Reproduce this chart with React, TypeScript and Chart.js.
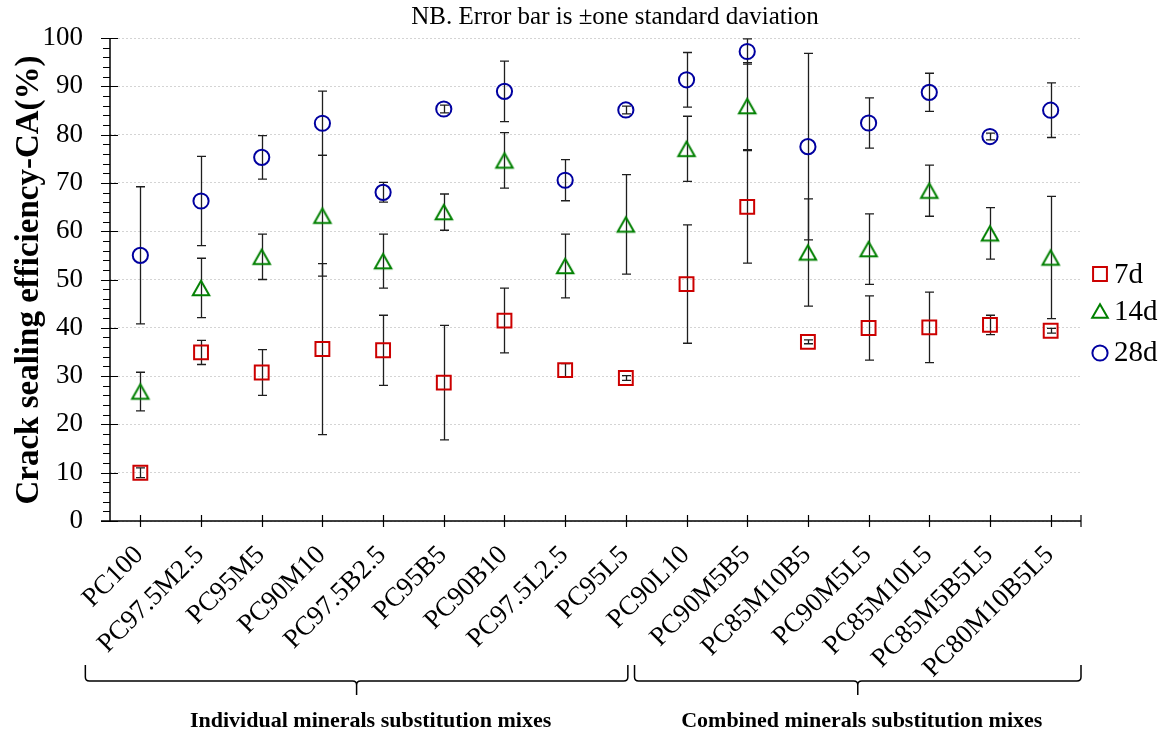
import { useEffect, useRef } from "react";
import { Chart, registerables } from "chart.js";

Chart.register(...registerables);

const categories = [
  "PC100", "PC97.5M2.5", "PC95M5", "PC90M10", "PC97.5B2.5", "PC95B5", "PC90B10", "PC97.5L2.5",
  "PC95L5", "PC90L10", "PC90M5B5", "PC85M10B5", "PC90M5L5", "PC85M10L5", "PC85M5B5L5", "PC80M10B5L5",
];

const mean7d = [10.0, 34.9, 30.75, 35.6, 35.35, 28.65, 41.5, 31.25, 29.6, 49.05, 65.05, 37.1, 39.95, 40.1, 40.6, 39.4];
const sd7d = [1.0, 2.5, 4.75, 17.7, 7.25, 11.85, 6.7, 1.35, 0.5, 12.25, 11.65, 0.4, 6.65, 7.3, 2.0, 0.5];
const mean14d = [26.8, 48.25, 54.7, 63.2, 53.8, 63.95, 74.65, 52.8, 61.4, 77.05, 85.9, 55.6, 56.3, 68.4, 59.55, 54.55];
const sd14d = [4.0, 6.15, 4.7, 12.5, 5.6, 3.75, 5.75, 6.6, 10.3, 6.75, 9.0, 11.1, 7.3, 5.3, 5.35, 12.65];
const mean28d = [55.0, 66.25, 75.3, 82.35, 68.05, 85.3, 88.95, 70.55, 85.1, 91.35, 97.2, 77.5, 82.4, 88.75, 79.6, 85.05];
const sd28d = [14.2, 9.25, 4.5, 6.65, 2.05, 0.8, 6.25, 4.25, 0.8, 5.65, 2.6, 19.3, 5.2, 3.95, 0.7, 5.65];

const seriesLabels = ["7d", "14d", "28d"];
const groupLabels = ["Individual minerals substitution mixes", "Combined minerals substitution mixes"];
const groupStart = [0, 9];
const groupEnd = [8, 15];
const titleText = "NB. Error bar is \u00b1one standard daviation";
const yTitleText = "Crack sealing efficiency-CA(%)";

const FONT = "'Liberation Serif', 'Times New Roman', serif";
const RED = "#cc0000";
const GREEN = "#008000";
const BLUE = "#0000a0";

const seriesColors = [RED, GREEN, BLUE];
const seriesStyles = ["rect", "triangle", "circle"];
const seriesRadius = [9.8, 9.8, 7.6];
const seriesMeans = [mean7d, mean14d, mean28d];
const seriesSds = [sd7d, sd14d, sd28d];

// Triangle drawn centred on its bounding box (as in the reference) rather than its centroid.
function makeTriangleImage(color: string, halfW: number, halfH: number) {
  const size = 24;
  const c = document.createElement("canvas");
  c.width = size;
  c.height = size;
  const g = c.getContext("2d") as CanvasRenderingContext2D;
  const cx = size / 2;
  const cy = size / 2;
  g.strokeStyle = color;
  g.lineWidth = 2;
  g.lineJoin = "miter";
  g.beginPath();
  g.moveTo(cx, cy - halfH);
  g.lineTo(cx + halfW, cy + halfH);
  g.lineTo(cx - halfW, cy + halfH);
  g.closePath();
  g.stroke();
  return c;
}

function drawMarker(ctx: CanvasRenderingContext2D, style: string, x: number, y: number, r: number) {
  ctx.beginPath();
  if (style === "rect") {
    const h = r * Math.SQRT1_2;
    ctx.rect(x - h, y - h, 2 * h, 2 * h);
  } else if (style === "triangle") {
    const hw = r * 0.866;
    const hh = r * 0.75;
    ctx.moveTo(x, y - hh);
    ctx.lineTo(x + hw, y + hh);
    ctx.lineTo(x - hw, y + hh);
    ctx.closePath();
  } else {
    ctx.arc(x, y, r, 0, Math.PI * 2);
  }
  ctx.stroke();
}

const decorPlugin = {
  id: "decor",
  beforeDatasetsDraw(chart: any) {
    const { ctx } = chart;
    const xs = chart.scales.x;
    const ys = chart.scales.y;
    ctx.save();
    ctx.strokeStyle = "#1e1e1e";
    ctx.lineWidth = 1.3;
    seriesMeans.forEach((means, s) => {
      means.forEach((m: number, i: number) => {
        const sd = seriesSds[s][i];
        const px = Math.round(xs.getPixelForValue(i)) + 0.5;
        const top = ys.getPixelForValue(m + sd);
        const bot = ys.getPixelForValue(m - sd);
        ctx.beginPath();
        ctx.moveTo(px, top);
        ctx.lineTo(px, bot);
        ctx.moveTo(px - 4.5, top);
        ctx.lineTo(px + 4.5, top);
        ctx.moveTo(px - 4.5, bot);
        ctx.lineTo(px + 4.5, bot);
        ctx.stroke();
      });
    });
    ctx.restore();
  },
  afterDraw(chart: any) {
    const { ctx, chartArea } = chart;
    const xs = chart.scales.x;
    const ys = chart.scales.y;
    const L = chartArea.left;
    const R = chartArea.right;
    const B = ys.getPixelForValue(0);
    const T = ys.getPixelForValue(100);
    ctx.save();
    ctx.strokeStyle = "#000";
    ctx.lineWidth = 1.5;
    ctx.beginPath();
    ctx.moveTo(L, T);
    ctx.lineTo(L, B);
    ctx.moveTo(L - 9, B);
    ctx.lineTo(R, B);
    ctx.stroke();
    ctx.lineWidth = 1.2;
    ctx.beginPath();
    for (let v = 0; v <= 100; v += 2) {
      const py = Math.round(ys.getPixelForValue(v)) + 0.5;
      if (v % 10 === 0) {
        ctx.moveTo(L - 9, py);
        ctx.lineTo(L + 8, py);
      } else {
        ctx.moveTo(L - 7, py);
        ctx.lineTo(L, py);
      }
    }
    categories.forEach((_, i) => {
      const px = Math.round(xs.getPixelForValue(i)) + 0.5;
      ctx.moveTo(px, B - 6);
      ctx.lineTo(px, B + 6);
    });
    ctx.moveTo(R, B - 6);
    ctx.lineTo(R, B + 6);
    ctx.stroke();

    ctx.fillStyle = "#000";
    ctx.font = `27px ${FONT}`;
    ctx.textAlign = "right";
    ctx.textBaseline = "middle";
    categories.forEach((c, i) => {
      const px = xs.getPixelForValue(i);
      ctx.save();
      ctx.translate(px - 1, B + 30);
      ctx.rotate(-Math.PI / 4);
      ctx.fillText(c, 0, 0);
      ctx.restore();
    });

    ctx.font = `25px ${FONT}`;
    ctx.textAlign = "center";
    ctx.textBaseline = "middle";
    ctx.fillText(titleText, 615, 17);

    ctx.save();
    ctx.translate(29, 280);
    ctx.rotate(-Math.PI / 2);
    ctx.font = `bold 33px ${FONT}`;
    ctx.fillText(yTitleText, 0, 0);
    ctx.restore();

    ctx.lineWidth = 1.5;
    const drawBrace = (x1: number, x2: number) => {
      const yTop = 665;
      const yLine = 681;
      const tip = 695;
      const mid = (x1 + x2) / 2;
      ctx.beginPath();
      ctx.moveTo(x1, yTop);
      ctx.lineTo(x1, yLine - 4);
      ctx.quadraticCurveTo(x1, yLine, x1 + 4, yLine);
      ctx.lineTo(mid - 4, yLine);
      ctx.quadraticCurveTo(mid, yLine, mid, yLine + 4);
      ctx.lineTo(mid, tip);
      ctx.moveTo(x2, yTop);
      ctx.lineTo(x2, yLine - 4);
      ctx.quadraticCurveTo(x2, yLine, x2 - 4, yLine);
      ctx.lineTo(mid + 4, yLine);
      ctx.quadraticCurveTo(mid, yLine, mid, yLine + 4);
      ctx.stroke();
      return mid;
    };
    const g1a = xs.getPixelForValue(groupStart[0]) - 55;
    const g1b = xs.getPixelForValue(groupEnd[0]) + 2;
    const g2a = xs.getPixelForValue(groupStart[1]) - 52;
    const g2b = R;
    const m1 = drawBrace(g1a, g1b);
    const m2 = drawBrace(g2a, g2b);
    ctx.font = `bold 22px ${FONT}`;
    ctx.textAlign = "center";
    ctx.textBaseline = "middle";
    ctx.fillText(groupLabels[0], m1 + 14, 721);
    ctx.fillText(groupLabels[1], m2 + 4, 721);

    const legY = [274, 311, 353];
    const legBase = [283, 320, 361];
    seriesLabels.forEach((lab, k) => {
      ctx.strokeStyle = seriesColors[k];
      ctx.lineWidth = 2;
      drawMarker(ctx, seriesStyles[k], 1100, legY[k], k === 1 ? 9.0 : seriesRadius[k]);
      ctx.fillStyle = "#000";
      ctx.font = `29px ${FONT}`;
      ctx.textAlign = "left";
      ctx.textBaseline = "alphabetic";
      ctx.fillText(lab, 1114, legBase[k]);
    });
    ctx.restore();
  },
};

export default function App() {
  const canvasRef = useRef<HTMLCanvasElement | null>(null);

  useEffect(() => {
    document.body.style.margin = "0";
    const canvas = canvasRef.current;
    if (!canvas) return;
    Chart.defaults.font.family = FONT;
    const triImg = makeTriangleImage(GREEN, 8.2, 7.2);
    const pointStyles: any[] = ["rect", triImg, "circle"];
    const chart = new Chart(canvas, {
      type: "line",
      data: {
        labels: categories,
        datasets: seriesLabels.map((lab, k) => ({
          label: lab,
          data: seriesMeans[k],
          showLine: false,
          pointStyle: pointStyles[k],
          pointRadius: seriesRadius[k],
          pointHoverRadius: seriesRadius[k],
          pointBorderWidth: 2,
          pointHoverBorderWidth: 2,
          pointBorderColor: seriesColors[k],
          pointBackgroundColor: "rgba(0,0,0,0)",
          borderColor: seriesColors[k],
          backgroundColor: "rgba(0,0,0,0)",
          clip: false as any,
        })),
      },
      options: {
        responsive: false,
        animation: false,
        events: [],
        layout: { padding: { left: 0, right: 83, top: 38, bottom: 0 } },
        plugins: {
          legend: { display: false },
          tooltip: { enabled: false },
          title: { display: false },
        },
        scales: {
          x: {
            type: "category",
            offset: true,
            grid: { display: false, drawTicks: false },
            border: { display: false },
            ticks: { display: false },
            afterFit: (scale: any) => {
              scale.height = 212;
            },
          },
          y: {
            min: 0,
            max: 100,
            ticks: {
              stepSize: 10,
              color: "#000",
              font: { size: 27, family: FONT },
              padding: 27,
            },
            grid: { color: "#d4d4d4", lineWidth: 1, drawTicks: false },
            border: { display: false, dash: [2, 2] },
            afterFit: (scale: any) => {
              scale.width = 110;
              scale.paddingTop = 0;
            },
          },
        },
      },
      plugins: [decorPlugin],
    });
    return () => chart.destroy();
  }, []);

  return (
    <div style={{ width: 1164, height: 733, position: "relative" }}>
      <canvas ref={canvasRef} width={1164} height={733} style={{ display: "block" }} />
    </div>
  );
}
